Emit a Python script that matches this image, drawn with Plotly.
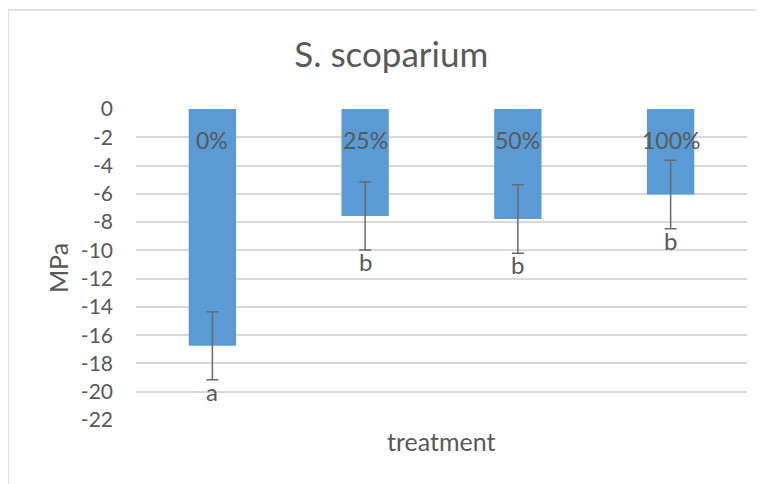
import plotly.graph_objects as go

# values
treatments = ["0%", "25%", "50%", "100%"]
mpa_mean = [-16.75, -7.57, -7.78, -6.05]
mpa_err = [2.41, 2.40, 2.42, 2.42]
letters = ["a", "b", "b", "b"]
y_ticks = [0, -2, -4, -6, -8, -10, -12, -14, -16, -18, -20, -22]
y_tick_text = ["0", "-2", "-4", "-6", "-8", "-10", "-12", "-14", "-16", "-18", "-20", "-22"]

grey = "#595959"
font = "Lato"

fig = go.Figure(go.Bar(
    x=treatments,
    y=mpa_mean,
    marker=dict(color="#5b9bd5", line=dict(width=0)),
    error_y=dict(type="data", array=mpa_err, color="#6a6a6a", thickness=1.5, width=6),
))

# category names sit near the top of each bar, like Excel's axis labels
for t in treatments:
    fig.add_annotation(x=t, y=-2.2, text=t, showarrow=False,
                       font=dict(family=font, size=23, color=grey))

# significance letters under the error bars
for t, m, e, l in zip(treatments, mpa_mean, mpa_err, letters):
    fig.add_annotation(x=t, y=m - e, text=l, showarrow=False, yanchor="top",
                       yshift=5, font=dict(family=font, size=24, color=grey))

fig.add_annotation(xref="paper", yref="paper", x=0.5, y=-0.0675, yanchor="middle",
                   text="treatment", showarrow=False,
                   font=dict(family=font, size=25, color=grey))
fig.add_annotation(xref="paper", yref="paper", x=-0.1285, y=0.49, xanchor="center",
                   yanchor="middle", textangle=-90, text="MPa", showarrow=False,
                   font=dict(family=font, size=25, color=grey))

# chart frame
fig.add_shape(type="rect", xref="paper", yref="paper",
              x0=-0.2095, x1=1.1, y0=-0.3, y1=1.318,
              line=dict(color="#d9d9d9", width=1.5))

# the page body adds 8px of margin, so the figure is 8px smaller
fig.update_layout(
    width=756, height=476,
    margin=dict(l=128, r=17, t=101, b=64),
    paper_bgcolor="white", plot_bgcolor="white",
    showlegend=False,
    bargap=0.69,
    title=dict(text="S. scoparium", x=0.507, xanchor="center", y=0.901, yanchor="middle",
               font=dict(family=font, size=35, color=grey)),
    font=dict(family=font, color=grey),
)
fig.update_xaxes(showticklabels=False, showgrid=False, zeroline=False, showline=False)
fig.update_yaxes(range=[-22, 0], tickvals=y_ticks, ticktext=y_tick_text,
                 showgrid=True, gridcolor="#d9d9d9",
                 gridwidth=1.5, zeroline=False, showline=False,
                 ticklabelstandoff=22, tickfont=dict(family=font, size=21, color=grey))

fig.write_html("out.html")
